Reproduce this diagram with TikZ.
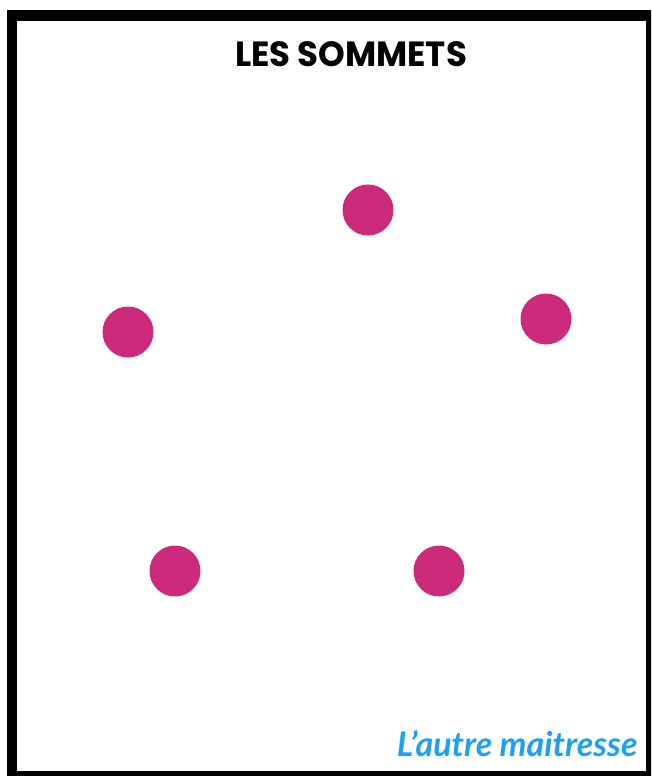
\documentclass[tikz,border=0pt]{standalone}
\usepackage{fontspec}
\usepackage{tikz}
\usetikzlibrary{positioning}
\newfontfamily\titrefont{Poppins}
\newfontfamily\signefont{Lato}
\definecolor{roseSommet}{HTML}{CC2A7B}
\definecolor{bleuSigne}{HTML}{1EA2F0}

\begin{document}
\begin{tikzpicture}[x=1pt, y=-1pt,
        sommet/.style={circle, fill=roseSommet, minimum size=51pt, inner sep=0pt},
        cadre/.style={draw=black, line width=10.5pt}]
    \useasboundingbox (0,0) rectangle (651,776);
    \clip (0,0) rectangle (651,776);
    \fill[white] (0,0) rectangle (651,776);
    \draw[cadre] (12,15.5) rectangle (651.5,776);
    % titre
    \node[font=\titrefont\bfseries\fontsize{35}{35}\selectfont, xscale=0.97, anchor=base] (titre) at (351,66.5) {LES SOMMETS};
    % les sommets
    \node[sommet] (s1) at (368,210) {};
    \node[sommet] (s2) at (546,319) {};
    \node[sommet] (s3) at (128,332) {};
    \node[sommet] (s4) at (175,571) {};
    \node[sommet] (s5) at (439,571) {};
    % signature
    \node[font=\signefont\bfseries\itshape\fontsize{34}{34}\selectfont, text=bleuSigne, anchor=base east] (signe) at (641,756) {L’autre maitresse};
\end{tikzpicture}
\end{document}
